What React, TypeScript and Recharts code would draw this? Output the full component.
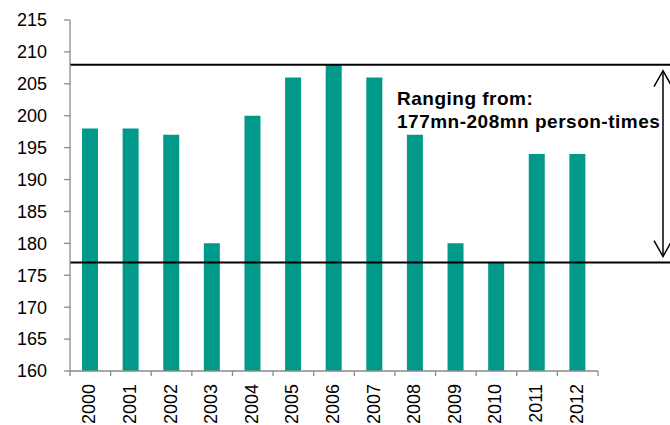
import React from 'react';
import { BarChart, Bar, XAxis, YAxis, ReferenceLine, ReferenceArea } from 'recharts';

// Yearly person-times (mn), 2000–2012
const years = ['2000', '2001', '2002', '2003', '2004', '2005', '2006', '2007', '2008', '2009', '2010', '2011', '2012'];
const personTimes = [198, 198, 197, 180, 200, 206, 208, 206, 197, 180, 177, 194, 194];
const yTicks = [160, 165, 170, 175, 180, 185, 190, 195, 200, 205, 210, 215];
const rangeLow = 177;
const rangeHigh = 208;
const noteLines = ['Ranging from:', '177mn-208mn person-times'];

const data = years.map((year, i) => ({ year, value: personTimes[i] }));

const WIDTH = 670;
const HEIGHT = 425;
const MARGIN = { top: 20, right: 72, bottom: 0, left: 0 };
const BAR_COLOR = '#00998A';
const AXIS_COLOR = '#8a8a8a';
const FONT = '"Liberation Sans", Arial, sans-serif';

// Horizontal range line that runs on past the plot to the chart's right edge
const ExtendedLine = (props: any) => {
  const { x1, y1, x2, y2 } = props;
  return (
    <line x1={x1} y1={y1} x2={x2 + MARGIN.right} y2={y2} stroke="#000" strokeWidth={2} />
  );
};

// Double-headed arrow spanning the range, plus the note text
const RangeNote = (props: any) => {
  const { x, y, width, height } = props;
  const ax = x + width + MARGIN.right - 7;
  const top = y + 6;
  const bottom = y + height - 6;
  const head = 9;
  const headLen = 16;
  return (
    <g>
      <line x1={ax} y1={top} x2={ax} y2={bottom} stroke="#000" strokeWidth={1.5} />
      <polyline
        points={`${ax - head},${top + headLen} ${ax},${top} ${ax + head},${top + headLen}`}
        fill="none"
        stroke="#000"
        strokeWidth={1.5}
      />
      <polyline
        points={`${ax - head},${bottom - headLen} ${ax},${bottom} ${ax + head},${bottom - headLen}`}
        fill="none"
        stroke="#000"
        strokeWidth={1.5}
      />
      {noteLines.map((line, i) => (
        <text
          key={line}
          x={x + 327}
          y={y + 40 + i * 23}
          fontFamily={FONT}
          fontSize={19}
          fontWeight="bold"
          letterSpacing={0.5}
          fill="#000"
        >
          {line}
        </text>
      ))}
    </g>
  );
};

// Year labels rotated upward, with tick marks on the category boundaries
const YearTick = (props: any) => {
  const { x, y, payload, index, visibleTicksCount, width } = props;
  const half = payload && payload.offset ? payload.offset : width / (2 * visibleTicksCount);
  const isLast = index === visibleTicksCount - 1;
  return (
    <g>
      <line x1={x - half} y1={y} x2={x - half} y2={y + 5} stroke={AXIS_COLOR} strokeWidth={1.3} />
      {isLast && (
        <line x1={x + half} y1={y} x2={x + half} y2={y + 5} stroke={AXIS_COLOR} strokeWidth={1.3} />
      )}
      <text
        x={0}
        y={0}
        transform={`translate(${x - 1},${y + 13}) rotate(-90)`}
        textAnchor="end"
        dominantBaseline="central"
        fontFamily={FONT}
        fontSize={18}
        fill="#000"
      >
        {payload.value}
      </text>
    </g>
  );
};

export default function App() {
  return (
    <div style={{ position: 'absolute', left: 0, top: 0, background: '#fff' }}>
      <BarChart width={WIDTH} height={HEIGHT} data={data} margin={MARGIN}>
        <XAxis
          dataKey="year"
          height={54}
          interval={0}
          tickLine={false}
          tickSize={0}
          tickMargin={0}
          axisLine={{ stroke: AXIS_COLOR, strokeWidth: 1.3 }}
          tick={<YearTick />}
        />
        <YAxis
          width={70}
          domain={[160, 215]}
          ticks={yTicks}
          interval={0}
          allowDataOverflow
          tickSize={6}
          tickMargin={17}
          axisLine={{ stroke: AXIS_COLOR, strokeWidth: 1.3 }}
          tickLine={{ stroke: AXIS_COLOR, strokeWidth: 1.3 }}
          tick={{ fill: '#000', fontSize: 18, fontFamily: FONT }}
        />
        <Bar dataKey="value" fill={BAR_COLOR} barSize={16} isAnimationActive={false} />
        <ReferenceArea y1={rangeLow} y2={rangeHigh} fill="none" stroke="none" shape={<RangeNote />} />
        <ReferenceLine y={rangeHigh} shape={<ExtendedLine />} />
        <ReferenceLine y={rangeLow} shape={<ExtendedLine />} />
      </BarChart>
    </div>
  );
}
